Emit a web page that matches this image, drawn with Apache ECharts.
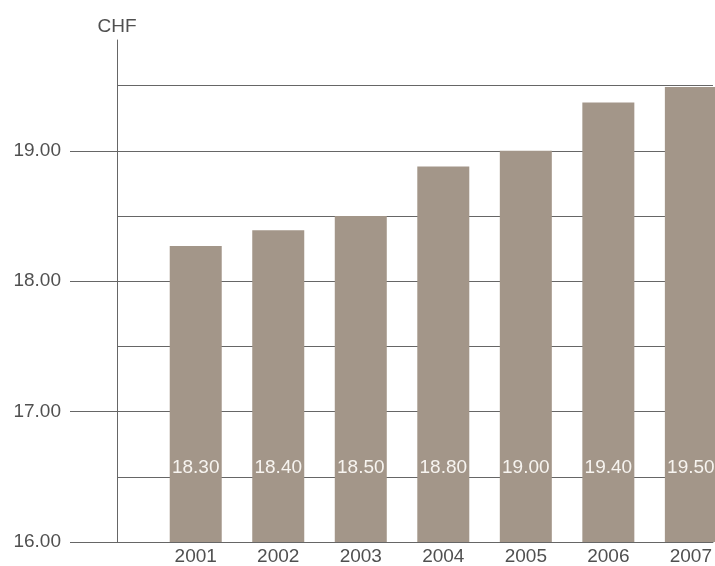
<!DOCTYPE html>
<html>
<head>
<meta charset="utf-8">
<script src="https://cdn.jsdelivr.net/npm/echarts@6/dist/echarts.min.js"></script>
<style>html,body{margin:0;padding:0;background:#fff}#c{width:715px;height:566px}</style>
</head>
<body>
<div id="c"></div>
<script>
const years = [2001, 2002, 2003, 2004, 2005, 2006, 2007];
const barValues = [18.27, 18.39, 18.50, 18.88, 19.00, 19.37, 19.49];
const barLabels = ["18.30", "18.40", "18.50", "18.80", "19.00", "19.40", "19.50"];
const yTickValues = [16, 17, 18, 19];

const chart = echarts.init(document.getElementById('c'), null, {renderer: 'canvas'});
const font = 'Liberation Sans, Arial, Helvetica, sans-serif';
const grey = '#666666';
const textGrey = '#505050';
chart.setOption({
  animation: false,
  grid: {left: 117, right: 0, top: 40, bottom: 22, containLabel: false},
  xAxis: {
    type: 'value',
    min: 2000.046,
    max: 2007.268,
    axisLine: {show: true, lineStyle: {color: grey, width: 1}},
    axisTick: {show: false},
    splitLine: {show: false},
    axisLabel: {
      customValues: years,
      margin: 5,
      color: textGrey,
      fontSize: 19,
      fontFamily: font,
      formatter: v => String(v)
    }
  },
  yAxis: [{
    type: 'value',
    min: 16,
    max: 19.85,
    interval: 0.5,
    name: 'CHF',
    nameGap: 4,
    nameTextStyle: {color: textGrey, fontSize: 19, fontFamily: font},
    axisLine: {show: true, lineStyle: {color: grey, width: 1}},
    axisTick: {show: true, customValues: yTickValues, length: 47, inside: false, lineStyle: {color: grey, width: 1}},
    splitLine: {show: false},
    axisLabel: {
      customValues: yTickValues,
      margin: 56,
      color: textGrey,
      fontSize: 19,
      fontFamily: font,
      formatter: v => Number(v).toFixed(2)
    }
  }, {
    type: 'value',
    min: 16,
    max: 19.85,
    interval: 0.5,
    position: 'left',
    axisLine: {show: false},
    axisTick: {show: false},
    axisLabel: {show: false},
    splitLine: {show: true, showMinLine: true, showMaxLine: false, lineStyle: {color: grey, width: 1}}
  }],
  series: [{
    type: 'bar',
    yAxisIndex: 0,
    data: years.map((y, i) => [y, barValues[i]]),
    barWidth: 52,
    itemStyle: {color: '#a39689'},
    z: 3,
    label: {
      show: true,
      position: 'insideBottom',
      distance: 65,
      color: '#f7f4f0',
      fontSize: 19,
      fontFamily: font,
      formatter: p => barLabels[p.dataIndex]
    }
  }]
});
</script>
</body>
</html>
